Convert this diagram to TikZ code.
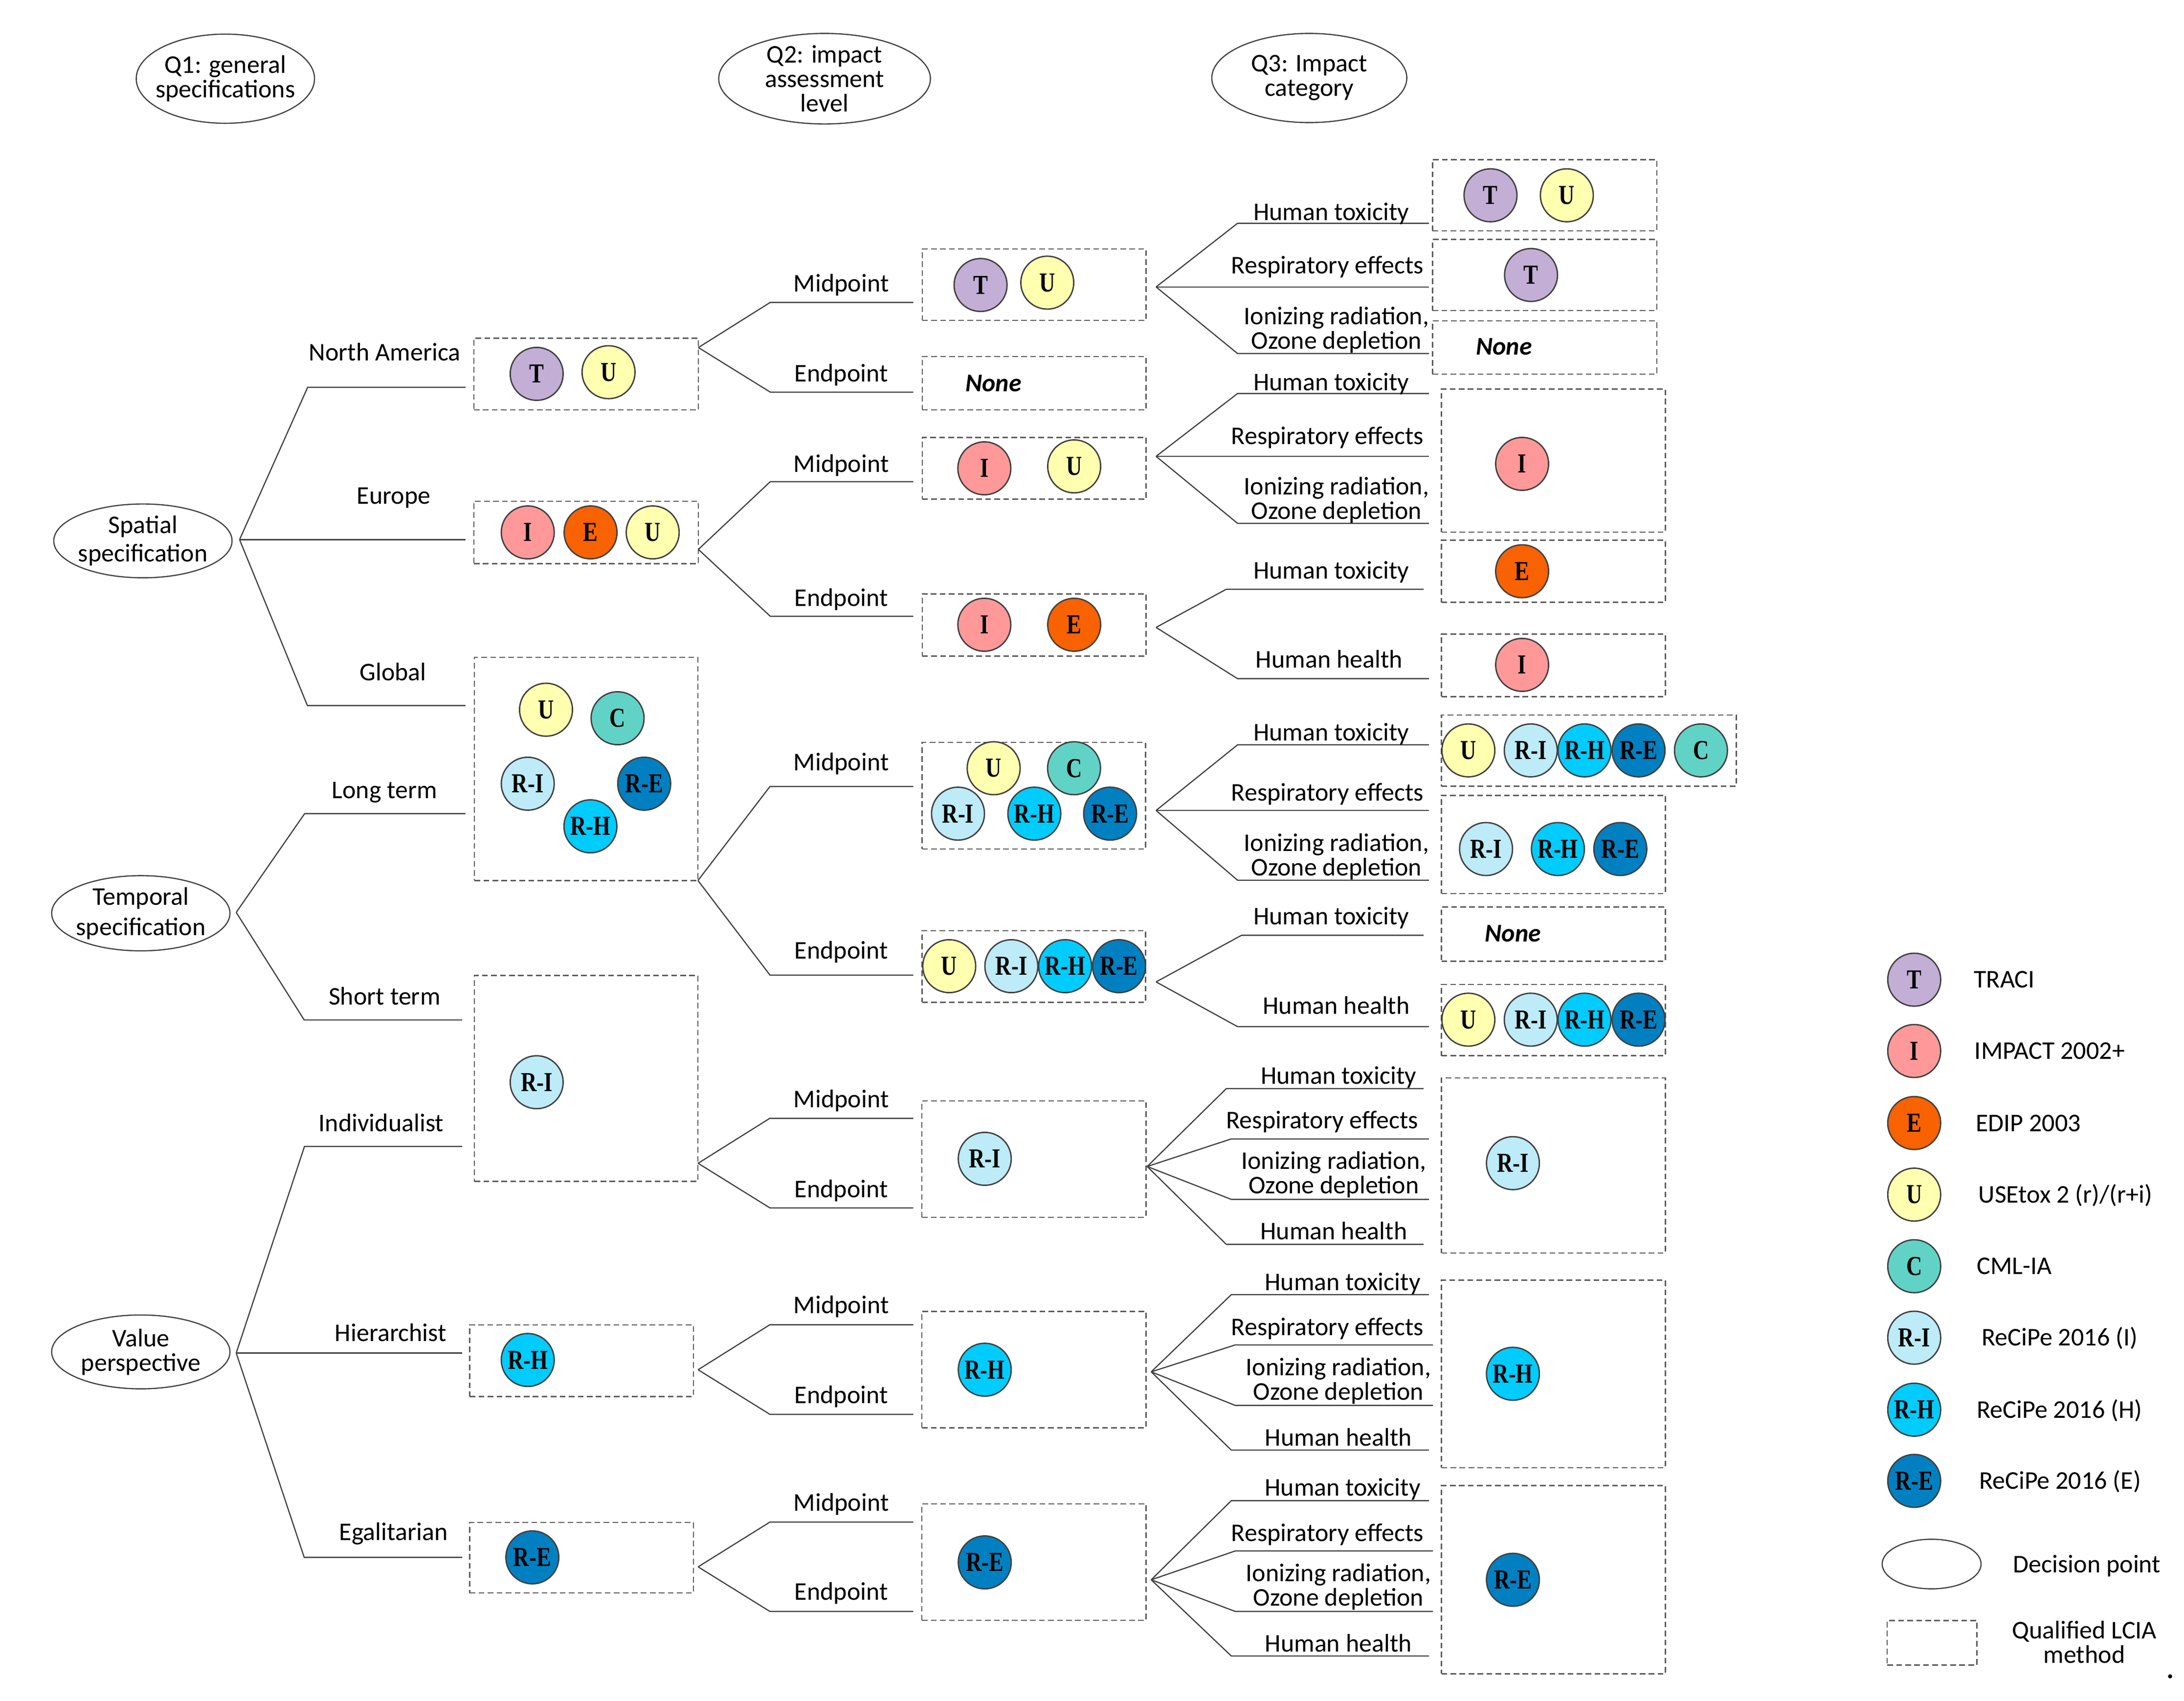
\documentclass[tikz,border=0pt]{standalone}
\usepackage{fontspec}
\setmainfont{Carlito}
\newfontfamily\methfont{Liberation Serif}[FakeStretch=0.8]
\usetikzlibrary{shapes.geometric,fit}

\definecolor{cT}{HTML}{C3AED6}
\definecolor{cI}{HTML}{FF9999}
\definecolor{cE}{HTML}{F86200}
\definecolor{cU}{HTML}{FFFFB0}
\definecolor{cC}{HTML}{60D3C6}
\definecolor{cRI}{HTML}{BDEBF7}
\definecolor{cRH}{HTML}{00CCFF}
\definecolor{cRE}{HTML}{0080C0}
\definecolor{lnc}{HTML}{404040}
\definecolor{boxc}{HTML}{5A5A5A}

\def\px{0.025cm}
\def\ionz{Ionizing radiation,\\Ozone depletion}

\tikzset{
  dec/.style={ellipse, draw=lnc, line width=0.6pt, inner xsep=-30pt, inner ysep=-20pt, align=center},
  qbox/.style={draw=boxc, dash pattern=on 2.9pt off 1.7pt, line width=0.6pt, inner sep=0pt},
  branch/.style={lnc, line width=0.6pt},
  lab/.style={inner sep=0pt, align=center},
  meth/.style={circle, draw=lnc, line width=0.7pt, fill=#1, minimum size=38*\px, inner sep=0pt, font=\methfont\bfseries\fontsize{14}{14}\selectfont},
  nonetxt/.style={inner sep=0pt, font=\fontsize{13}{12.5}\selectfont\bfseries\itshape},
}

\begin{document}
\begin{tikzpicture}[x=0.025cm, y=-0.025cm, font=\fontsize{13}{12.5}\selectfont]
\useasboundingbox (0,0) rectangle (1568,1220.8);

% questions
\node[dec, minimum width=128*\px, minimum height=64*\px] (q1) at (161.8,56.5) {Q1: general\\specifications};
\node[dec, minimum width=152*\px, minimum height=65*\px] (q2) at (592,56.5) {Q2: impact\\assessment\\level};
\node[dec, minimum width=140*\px, minimum height=64*\px] (q3) at (940,56) {Q3: Impact\\category};

% decision points
\node[dec, minimum width=128*\px, minimum height=53*\px, font=\fontsize{13}{14.5}\selectfont] (spatial) at (102.6,388.3) {Spatial\\specification};
\node[dec, minimum width=128*\px, minimum height=54*\px, font=\fontsize{13}{15.5}\selectfont] (temporal) at (101.1,655.6) {Temporal\\specification};
\node[dec, minimum width=128*\px, minimum height=53*\px] (value) at (101.1,970.5) {Value\\perspective};

\coordinate (spF) at (172,387.4);
\coordinate (tmF) at (169.6,655);
\coordinate (vaF) at (169.6,971.3);

% Q1 branches
\foreach \fk/\nm/\kx/\ly/\lx/\lbl/\tx/\ty in {
  spF/na/220.9/278/334.3/North America/276.2/259,
  spF/eu/172/387.4/334.3/Europe/282.7/361.8,
  spF/gl/220.7/506.5/334.2/Global/282.1/488.7,
  tmF/lt/218.7/584.1/334.2/Long term/276.1/573.3,
  tmF/st/218.4/732.2/331.8/Short term/276.1/721.5,
  vaF/in/218.6/823/331.8/Individualist/273.7/812.1,
  vaF/hi/169.6/971.3/331.8/Hierarchist/280.5/962.9,
  vaF/eg/218.4/1118/331.8/Egalitarian/282.5/1105.6}{
  \coordinate (\nm K) at (\kx,\ly);
  \coordinate (\nm L) at (\lx,\ly);
  \draw[branch] (\fk) -- (\nm K) -- (\nm L);
  \node[lab, anchor=base] (\nm T) at (\tx,\ty) {\lbl};
}

% qualified methods, boxes
\foreach \nm/\xa/\ya/\xb/\yb in {
  naBox/340.2/242.8/501.4/294.3, euBox/340.2/359.8/501.4/404.6,
  glBox/340.6/471.9/501.1/632.1, stBox/340.6/700.3/501.1/848.1,
  hiBox/337.2/951.1/497.8/1002.5, egBox/337.2/1092.9/497.8/1143.6,
  naMBox/662.1/178.7/822.8/230, naEBox/662.1/255.9/822.8/294.3,
  euMBox/662.1/314.1/822.8/358.3, euEBox/662.1/426.4/822.8/471,
  glMBox/662/533/822.5/609.6, glEBox/662/668.1/822.5/719.5,
  inQBox/661.9/790.3/822.8/873.8, hiQBox/661.9/941.4/822.8/1025,
  egQBox/661.9/1079.6/822.8/1163.2,
  a1Box/1028.5/114.6/1189.5/165.7, a2Box/1028.5/171.9/1189.5/222.9,
  a3Box/1028.5/230.4/1189.5/268.5, bBox/1034.9/279.3/1195.6/381.9,
  c1Box/1034.9/387.8/1195.6/432.4, c2Box/1034.9/455.2/1195.6/500.1,
  d1Box/1034.9/513.4/1246.5/564.4, d2Box/1034.9/571/1195.6/641.5,
  e1Box/1034.9/651.1/1195.6/690.1, e2Box/1034.9/706.7/1195.6/757.9,
  fBox/1034.9/773.9/1195.6/899.4, gBox/1034.9/919/1195.6/1053.7,
  hBox/1034.9/1066.5/1195.6/1201.6}
  \node[qbox, fit={(\xa,\ya) (\xb,\yb)}] (\nm) {};

% Q2 branches
\coordinate (naF) at (501.4,249.5);
\coordinate (euF) at (501.4,394.4);
\coordinate (glF) at (501.1,632.1);
\coordinate (inF) at (501.2,835.1);
\coordinate (hiF) at (501.2,983.3);
\coordinate (egF) at (501.2,1124.8);
\foreach \fk/\nm/\kx/\ly/\lbl/\ty in {
  naF/naM/553/217.1/Midpoint/209.6, naF/naE/553/281.5/Endpoint/274.2,
  euF/euM/553/345.8/Midpoint/339.1, euF/euE/553/442.4/Endpoint/435.2,
  glF/glM/552.8/564.6/Midpoint/553.2, glF/glE/552.8/700/Endpoint/688.2,
  inF/inM/552.7/802.8/Midpoint/795, inF/inE/552.7/867.1/Endpoint/859.6,
  hiF/hiM/552.7/951/Midpoint/942.8, hiF/hiE/552.7/1015.3/Endpoint/1007.4,
  egF/egM/552.7/1092.7/Midpoint/1084.6, egF/egE/552.7/1156.8/Endpoint/1148.7}{
  \coordinate (\nm K) at (\kx,\ly);
  \coordinate (\nm L) at (655.7,\ly);
  \draw[branch] (\fk) -- (\nm K) -- (\nm L);
  \node[lab, anchor=base] (\nm T) at (604,\ty) {\lbl};
}

% Q3 branches
\coordinate (naMF) at (830,206);
\coordinate (euMF) at (830,327.6);
\coordinate (euEF) at (830,450.4);
\coordinate (glMF) at (830,581.8);
\coordinate (glEF) at (830,704.9);
\coordinate (inQF) at (823.6,837.4);
\coordinate (hiQF) at (826.5,984.8);
\coordinate (egQF) at (826.5,1134.1);
\foreach \fk/\nm/\kx/\ly/\lx/\lbl/\tx/\ty/\an in {
  naMF/a1/888.5/160.3/1025.9/Human toxicity/955.8/158.2/base,
  naMF/a2/830/206/1025.9/Respiratory effects/953/196.6/base,
  naMF/a3/888.5/253.8/1025.9/\ionz/959.5/236.9/center,
  euMF/b1/888.5/282.5/1025.9/Human toxicity/955.8/280.4/base,
  euMF/b2/830/327.6/1025.9/Respiratory effects/953/318.8/base,
  euMF/b3/888.5/375.7/1025.9/\ionz/959.5/359.1/center,
  euEF/c1/880.4/423/1022.1/Human toxicity/955.8/415.5/base,
  euEF/c2/888.5/487.2/1025.9/Human health/954.3/479.4/base,
  glMF/d1/888.5/534.7/1025.9/Human toxicity/955.8/531.7/base,
  glMF/d2/830/581.8/1025.9/Respiratory effects/953/574.8/base,
  glMF/d3/888.5/631.9/1025.9/\ionz/959.5/614.9/center,
  glEF/e1/891.4/671.4/1022.1/Human toxicity/955.8/663.9/base,
  glEF/e2/888.5/737/1025.9/Human health/959.4/727.9/base,
  inQF/f1/880.4/781.5/1022.1/Human toxicity/961/778.3/base,
  inQF/f2/884/817.6/1025.9/Respiratory effects/949.3/810.3/base,
  inQF/f3/884/861/1025.9/\ionz/957.6/843.2/center,
  inQF/f4/880.4/893.3/1022.1/Human health/957.6/889.8/base,
  hiQF/g1/884/929.4/1025.9/Human toxicity/964/926.3/base,
  hiQF/g2/886.8/965.5/1028.8/Respiratory effects/953/958.6/base,
  hiQF/g3/886.8/1008.9/1028.8/\ionz/960.9/991.4/center,
  hiQF/g4/884/1041/1025.9/Human health/960.9/1038/base,
  egQF/h1/884/1077.3/1025.9/Human toxicity/964/1073.8/base,
  egQF/h2/886.8/1113.4/1028.8/Respiratory effects/953/1106.4/base,
  egQF/h3/886.8/1156.8/1028.8/\ionz/960.9/1139.3/center,
  egQF/h4/884/1188.8/1025.9/Human health/960.9/1185.9/base}{
  \coordinate (\nm K) at (\kx,\ly);
  \coordinate (\nm L) at (\lx,\ly);
  \draw[branch] (\fk) -- (\nm K) -- (\nm L);
  \node[lab, anchor=\an] (\nm T) at (\tx,\ty) {\lbl};
}

% methods in the boxes
\foreach \nm/\col/\txt/\cx/\cy in {
  naT/cT/T/385.3/268.4, naU/cU/U/436.9/267.2,
  euI/cI/I/378.9/382.2, euE/cE/E/424/382.2, euU/cU/U/468.6/382.2,
  glU/cU/U/392/509.5, glC/cC/C/443.4/515.6, glRI/cRI/R-I/378.9/562.6,
  glRE/cRE/R-E/462.5/562.6, glRH/cRH/R-H/423.9/593.2,
  stRI/cRI/R-I/385.3/776.9, hiRH/cRH/R-H/378.9/976.3, egRE/cRE/R-E/382.2/1118,
  naMT/cT/T/704/204.6, naMU/cU/U/751.9/202.9,
  euMI/cI/I/706.7/336.2, euMU/cU/U/771.2/334.8,
  euEI/cI/I/706.7/448.5, euEE/cE/E/771.2/448.5,
  glMU/cU/U/713.4/551.5, glMC/cC/C/771.1/551.5, glMRI/cRI/R-I/687.8/584.1,
  glMRH/cRH/R-H/742.6/584.1, glMRE/cRE/R-E/797/584.1,
  glEU/cU/U/681.5/693.6, glERI/cRI/R-I/726.1/693.6,
  glERH/cRH/R-H/764.7/693.6, glERE/cRE/R-E/803.4/693.6,
  inQRI/cRI/R-I/707/831.9, hiQRH/cRH/R-H/707/983.3, egQRE/cRE/R-E/707/1121.6,
  a1T/cT/T/1070.1/140.2, a1U/cU/U/1124.9/140.2, a2T/cT/T/1099.2/197.4,
  bI/cI/I/1092.8/333, c1E/cE/E/1092.8/410.1, c2I/cI/I/1092.8/477.3,
  d1U/cU/U/1054.2/538.7, d1RI/cRI/R-I/1099/538.7, d1RH/cRH/R-H/1137.6/538.7,
  d1RE/cRE/R-E/1176.4/538.7, d1C/cC/C/1221.2/538.7,
  d2RI/cRI/R-I/1066.9/609.5, d2RH/cRH/R-H/1118.5/609.5, d2RE/cRE/R-E/1163.3/609.5,
  e2U/cU/U/1054.2/732, e2RI/cRI/R-I/1099/732, e2RH/cRH/R-H/1137.6/732,
  e2RE/cRE/R-E/1176.4/732,
  fRI/cRI/R-I/1086.2/835, gRH/cRH/R-H/1086.2/986.2, hRE/cRE/R-E/1086.2/1134.1}
  \node[meth=\col] (\nm) at (\cx,\cy) {\txt};

\node[nonetxt] (naNone) at (713.2,275.1) {None};
\node[nonetxt] (a3None) at (1079.8,249) {None};
\node[nonetxt] (e1None) at (1086.2,670.3) {None};

% legend
\foreach \nm/\col/\txt/\cy/\lbl/\tx in {
  lgT/cT/T/703.3/TRACI/1416.9,
  lgI/cI/I/754.5/IMPACT 2002+/1417.4,
  lgE/cE/E/806.2/EDIP 2003/1418.2,
  lgU/cU/U/857.6/USEtox 2 (r)\slash(r+i)/1420.1,
  lgC/cC/C/909/CML-IA/1419,
  lgRI/cRI/R-I/960.3/ReCiPe 2016 (I)/1422.5,
  lgRH/cRH/R-H/1012/ReCiPe 2016 (H)/1419,
  lgRE/cRE/R-E/1063.1/ReCiPe 2016 (E)/1420.6}{
  \node[meth=\col] (\nm) at (1374.3,\cy) {\txt};
  \node[lab, anchor=base west] (\nm T) at (\tx,\cy+5.9) {\lbl};
}
\node[dec, minimum width=71*\px, minimum height=35.6*\px] (lgDec) at (1386.8,1122.8) {};
\node[lab, anchor=base west] (lgDecT) at (1445,1129.1) {Decision point};
\node[qbox, fit={(1354.9,1163.3) (1419.3,1195.3)}] (lgBox) {};
\node[lab] (lgBoxT) at (1496.4,1179) {Qualified LCIA\\method};
\node[circle, fill=black, inner sep=0pt, minimum size=3*\px] (dot) at (1558,1203.4) {};
\end{tikzpicture}
\end{document}
